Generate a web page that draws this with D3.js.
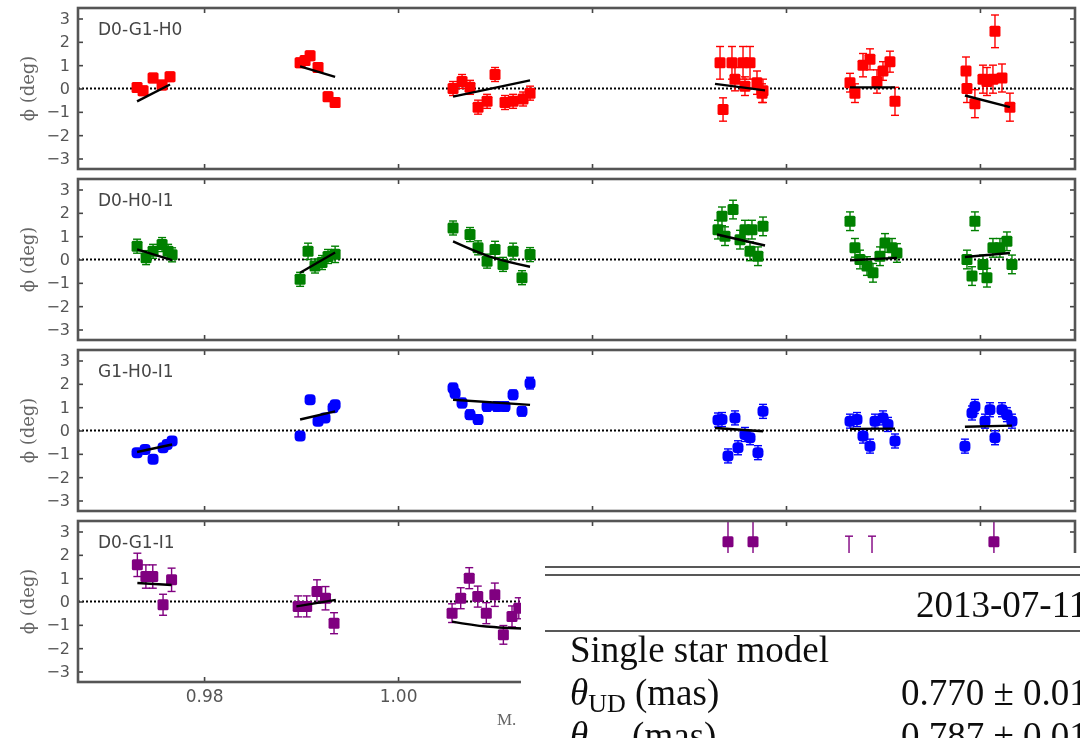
<!DOCTYPE html>
<html>
<head>
<meta charset="utf-8">
<script src="https://cdn.jsdelivr.net/npm/d3@7/dist/d3.min.js"></script>
<style>
  body { margin: 0; background: #fff; }
  svg { display: block; }
</style>
</head>
<body>
<div id="graphic"></div>
<script>
var width = 1080;
var height = 738;
var xLeft = 78;
var xRight = 1075;
var panelTop = 8;
var panelHeight = 161;
var panelStep = 171;
var markerSize = 11;
var capWidth = 8;
var tableLeft = 521;
var tableTop = 553;

var xDomain = [0.9670, 1.0698];
var yDomain = [-3.45, 3.45];
var xTicks = [0.98, 1.00, 1.02, 1.04, 1.06];
var yTicks = [-3, -2, -1, 0, 1, 2, 3];
var triangles = ["D0-G1-H0", "D0-H0-I1", "G1-H0-I1", "D0-G1-I1"];
var colors = ["#ff0000", "#008000", "#0000ff", "#800080"];

// closure phases: [time, phi (deg), error]
var phiD0G1H0 = [
  [0.97309, 0.04, 0.2], [0.97371, -0.1, 0.2], [0.97474, 0.45, 0.2], [0.97567, 0.15, 0.2], [0.97649, 0.5, 0.2],
  [0.98990, 1.1, 0.2], [0.99041, 1.2, 0.2], [0.99093, 1.4, 0.2], [0.99175, 0.9, 0.2], [0.99278, -0.35, 0.2], [0.99351, -0.6, 0.2],
  [1.00567, 0.0, 0.3], [1.00660, 0.3, 0.3], [1.00742, 0.05, 0.3], [1.00825, -0.8, 0.3], [1.00918, -0.55, 0.3],
  [1.01000, 0.6, 0.3], [1.01103, -0.6, 0.3], [1.01186, -0.55, 0.3], [1.01289, -0.45, 0.3], [1.01361, -0.2, 0.3],
  [1.03320, 1.1, 0.7], [1.03351, -0.9, 0.5], [1.03443, 1.1, 0.7], [1.03474, 0.4, 0.5], [1.03557, 1.1, 0.7],
  [1.03577, 0.1, 0.4], [1.03629, 1.1, 0.7], [1.03701, 0.25, 0.5], [1.03753, -0.2, 0.4], [1.03763, -0.1, 0.5],
  [1.04660, 0.25, 0.4], [1.04711, -0.2, 0.4], [1.04794, 1.0, 0.5], [1.04866, 1.25, 0.45], [1.04938, 0.3, 0.5],
  [1.05000, 0.75, 0.4], [1.05072, 1.15, 0.45], [1.05124, -0.55, 0.6],
  [1.05856, 0.75, 0.6], [1.05866, 0.0, 0.6], [1.05948, -0.65, 0.6], [1.06031, 0.4, 0.6], [1.06072, 0.3, 0.6],
  [1.06134, 0.4, 0.6], [1.06155, 2.45, 0.7], [1.06227, 0.45, 0.6], [1.06309, -0.8, 0.6]
];
var phiD0H0I1 = [
  [0.97309, 0.57, 0.3], [0.97402, 0.08, 0.3], [0.97474, 0.35, 0.3], [0.97567, 0.64, 0.3], [0.97629, 0.35, 0.3], [0.97670, 0.2, 0.3],
  [0.98990, -0.85, 0.3], [0.99072, 0.35, 0.35], [0.99144, -0.28, 0.3], [0.99216, -0.13, 0.3], [0.99278, 0.13, 0.3], [0.99351, 0.22, 0.35],
  [1.00567, 1.35, 0.3], [1.00742, 1.07, 0.3], [1.00825, 0.5, 0.3], [1.00918, -0.07, 0.3], [1.01000, 0.43, 0.35],
  [1.01082, -0.21, 0.3], [1.01186, 0.35, 0.35], [1.01278, -0.78, 0.3], [1.01361, 0.21, 0.3],
  [1.03299, 1.28, 0.4], [1.03340, 1.85, 0.4], [1.03371, 1.0, 0.4], [1.03454, 2.14, 0.4], [1.03526, 0.85, 0.4],
  [1.03577, 1.28, 0.4], [1.03629, 0.35, 0.4], [1.03649, 1.28, 0.4], [1.03711, 0.14, 0.4], [1.03763, 1.42, 0.4],
  [1.04660, 1.64, 0.4], [1.04711, 0.5, 0.4], [1.04763, 0.0, 0.4], [1.04835, -0.28, 0.4], [1.04897, -0.57, 0.4],
  [1.04969, 0.14, 0.4], [1.05021, 0.71, 0.4], [1.05093, 0.5, 0.4], [1.05144, 0.28, 0.4],
  [1.05866, 0.0, 0.4], [1.05918, -0.71, 0.4], [1.05948, 1.64, 0.4], [1.06031, -0.21, 0.4], [1.06072, -0.78, 0.4],
  [1.06134, 0.5, 0.4], [1.06206, 0.5, 0.4], [1.06278, 0.78, 0.4], [1.06330, -0.21, 0.4]
];
var phiG1H0I1 = [
  [0.97309, -0.95, 0.12], [0.97392, -0.81, 0.12], [0.97474, -1.23, 0.12], [0.97577, -0.74, 0.12], [0.97619, -0.6, 0.12], [0.97670, -0.45, 0.12],
  [0.98990, -0.24, 0.15], [0.99093, 1.32, 0.15], [0.99175, 0.4, 0.15], [0.99247, 0.54, 0.15], [0.99330, 0.97, 0.15], [0.99351, 1.1, 0.15],
  [1.00567, 1.82, 0.2], [1.00588, 1.6, 0.2], [1.00660, 1.18, 0.2], [1.00742, 0.68, 0.2], [1.00825, 0.47, 0.2], [1.00918, 1.03, 0.2],
  [1.01021, 1.03, 0.2], [1.01103, 1.03, 0.2], [1.01186, 1.53, 0.2], [1.01278, 0.82, 0.2], [1.01361, 2.03, 0.25],
  [1.03299, 0.45, 0.3], [1.03340, 0.47, 0.3], [1.03402, -1.09, 0.3], [1.03474, 0.54, 0.3], [1.03505, -0.74, 0.3],
  [1.03577, -0.17, 0.3], [1.03629, -0.31, 0.3], [1.03711, -0.95, 0.3], [1.03763, 0.82, 0.3],
  [1.04660, 0.4, 0.3], [1.04732, 0.47, 0.3], [1.04794, -0.24, 0.3], [1.04866, -0.67, 0.3], [1.04918, 0.4, 0.3],
  [1.05000, 0.54, 0.3], [1.05052, 0.26, 0.3], [1.05124, -0.45, 0.3],
  [1.05845, -0.67, 0.3], [1.05918, 0.75, 0.3], [1.05948, 1.03, 0.3], [1.06052, 0.4, 0.3], [1.06103, 0.89, 0.3],
  [1.06155, -0.31, 0.3], [1.06227, 0.89, 0.3], [1.06278, 0.68, 0.3], [1.06330, 0.4, 0.3]
];
var phiD0G1I1 = [
  [0.97312, 1.57, 0.5], [0.97400, 1.07, 0.5], [0.97471, 1.07, 0.5], [0.97577, -0.14, 0.45], [0.97665, 0.93, 0.5],
  [0.98970, -0.21, 0.45], [0.99058, -0.21, 0.45], [0.99164, 0.43, 0.5], [0.99252, 0.14, 0.5], [0.99340, -0.93, 0.45],
  [1.00557, -0.5, 0.4], [1.00646, 0.14, 0.45], [1.00734, 1.0, 0.45], [1.00822, 0.21, 0.45], [1.00910, -0.5, 0.45],
  [1.00998, 0.29, 0.5], [1.01086, -1.43, 0.4], [1.01175, -0.64, 0.45], [1.01245, -0.29, 0.45],
  [1.03402, 2.56, 1.0], [1.03660, 2.56, 1.0],
  [1.04650, 1.3, 1.5], [1.04887, 1.6, 1.2],
  [1.06144, 2.56, 1.0]
];

// model fits: one polyline per observing block, [time, phi]
var fitD0G1H0 = [
  [[0.97309, -0.55], [0.97649, 0.17]], [[0.98990, 0.95], [0.99351, 0.5]], [[1.00567, -0.35], [1.01361, 0.35]],
  [[1.03268, 0.2], [1.03784, -0.08]], [[1.04660, 0.05], [1.05124, 0.05]], [[1.05845, -0.3], [1.06309, -0.8]]
];
var fitD0H0I1 = [
  [[0.97309, 0.43], [0.97670, -0.03]], [[0.98990, -0.57], [0.99351, 0.3]], [[1.00567, 0.78], [1.00964, 0.1], [1.01361, -0.31]],
  [[1.03289, 1.07], [1.03784, 0.6]], [[1.04660, -0.03], [1.05144, 0.07]], [[1.05845, 0.11], [1.06309, 0.28]]
];
var fitG1H0I1 = [
  [[0.97309, -0.92], [0.97670, -0.6]], [[0.98990, 0.47], [0.99351, 0.82]], [[1.00567, 1.32], [1.01361, 1.1]],
  [[1.03268, 0.11], [1.03763, -0.03]], [[1.04660, 0.07], [1.05124, 0.08]], [[1.05845, 0.16], [1.06330, 0.21]]
];
var fitD0G1I1 = [
  [[0.97312, 0.79], [0.97665, 0.71]], [[0.98952, -0.21], [0.99358, 0.07]],
  [[1.00557, -0.86], [1.00910, -1.07], [1.01361, -1.17]]
];

var tableHeader = "2013-07-11";
var tableRows = [
  ["Single star model", ""],
  ["θ|UD| (mas)", "0.770 ± 0.01"],
  ["θ|LD| (mas)", "0.787 ± 0.01"]
];

var panels = [
  { name: triangles[0], color: colors[0], points: phiD0G1H0, fits: fitD0G1H0 },
  { name: triangles[1], color: colors[1], points: phiD0H0I1, fits: fitD0H0I1 },
  { name: triangles[2], color: colors[2], points: phiG1H0I1, fits: fitG1H0I1 },
  { name: triangles[3], color: colors[3], points: phiD0G1I1, fits: fitD0G1I1 }
];

var svg = d3.select("#graphic").append("svg")
  .attr("width", width)
  .attr("height", height);

var defs = svg.append("defs");
defs.append("filter").attr("id", "soft")
  .attr("x", 0).attr("y", 0).attr("width", width).attr("height", height)
  .attr("filterUnits", "userSpaceOnUse")
  .append("feGaussianBlur").attr("stdDeviation", 0.7);
defs.append("filter").attr("id", "softer")
  .attr("x", 0).attr("y", 0).attr("width", width).attr("height", height)
  .attr("filterUnits", "userSpaceOnUse")
  .append("feGaussianBlur").attr("stdDeviation", 0.5);

var chart = svg.append("g").attr("filter", "url(#soft)");

var xScale = d3.scaleLinear().domain(xDomain).range([xLeft, xRight]);

function renderPanel(p, i) {
  var top = panelTop + i * panelStep;
  var bottom = top + panelHeight;
  var yScale = d3.scaleLinear().domain(yDomain).range([bottom, top]);
  var g = chart.append("g");

  defs.append("clipPath").attr("id", "clip" + i)
    .append("rect")
    .attr("x", xLeft).attr("y", top)
    .attr("width", xRight - xLeft).attr("height", panelHeight);

  // zero line
  g.append("line")
    .attr("x1", xLeft).attr("x2", xRight)
    .attr("y1", yScale(0)).attr("y2", yScale(0))
    .attr("stroke", "#000")
    .attr("stroke-width", 1.8)
    .attr("stroke-dasharray", "2,2");

  var marks = g.append("g").attr("clip-path", "url(#clip" + i + ")");

  // error bars
  var bars = marks.append("g")
    .attr("stroke", p.color)
    .attr("stroke-width", 1.4)
    .selectAll("g")
    .data(p.points)
    .join("g");
  bars.append("line")
    .attr("x1", d => xScale(d[0])).attr("x2", d => xScale(d[0]))
    .attr("y1", d => yScale(d[1] - d[2])).attr("y2", d => yScale(d[1] + d[2]));
  bars.append("line")
    .attr("x1", d => xScale(d[0]) - capWidth / 2).attr("x2", d => xScale(d[0]) + capWidth / 2)
    .attr("y1", d => yScale(d[1] + d[2])).attr("y2", d => yScale(d[1] + d[2]));
  bars.append("line")
    .attr("x1", d => xScale(d[0]) - capWidth / 2).attr("x2", d => xScale(d[0]) + capWidth / 2)
    .attr("y1", d => yScale(d[1] - d[2])).attr("y2", d => yScale(d[1] - d[2]));

  // markers
  marks.append("g")
    .selectAll("rect")
    .data(p.points)
    .join("rect")
    .attr("x", d => xScale(d[0]) - markerSize / 2)
    .attr("y", d => yScale(d[1]) - markerSize / 2)
    .attr("width", markerSize)
    .attr("height", markerSize)
    .attr("rx", i == 2 ? 4 : 1.5)
    .attr("fill", p.color);

  // fitted model
  var line = d3.line()
    .x(d => xScale(d[0]))
    .y(d => yScale(d[1]))
    .curve(d3.curveNatural);
  marks.append("g")
    .selectAll("path")
    .data(p.fits)
    .join("path")
    .attr("d", line)
    .attr("fill", "none")
    .attr("stroke", "#000")
    .attr("stroke-width", 2.4);

  // axes (inward ticks on all four sides)
  var isLast = i == panels.length - 1;
  var left = g.append("g")
    .attr("transform", "translate(" + xLeft + ",0)")
    .call(d3.axisLeft(yScale).tickValues(yTicks).tickSize(-5).tickPadding(8)
      .tickFormat(d3.format("d")));
  var right = g.append("g")
    .attr("transform", "translate(" + xRight + ",0)")
    .call(d3.axisRight(yScale).tickValues(yTicks).tickSize(-5).tickFormat(""));
  var topAxis = g.append("g")
    .attr("transform", "translate(0," + top + ")")
    .call(d3.axisTop(xScale).tickValues(xTicks).tickSize(-5).tickFormat(""));
  // labels under the table are left out
  var bottomAxis = g.append("g")
    .attr("transform", "translate(0," + bottom + ")")
    .call(d3.axisBottom(xScale).tickValues(xTicks).tickSize(-5).tickPadding(8)
      .tickFormat(d => (isLast && xScale(d) < tableLeft) ? d3.format(".2f")(d) : ""));

  [left, right, topAxis, bottomAxis].forEach(function(a) {
    a.select(".domain").remove();
    a.selectAll("line").attr("stroke", "#444").attr("stroke-width", 1.6);
    a.selectAll("text")
      .attr("fill", "#555")
      .style("font-family", "'DejaVu Sans', sans-serif")
      .style("font-size", "16px");
  });
  bottomAxis.selectAll("text").style("font-size", "17px");

  // frame
  g.append("rect")
    .attr("x", xLeft).attr("y", top)
    .attr("width", xRight - xLeft).attr("height", panelHeight)
    .attr("fill", "none")
    .attr("stroke", "#555")
    .attr("stroke-width", 2.6);

  // triangle name
  g.append("text")
    .attr("x", xLeft + 20)
    .attr("y", top + 27)
    .attr("fill", "#444")
    .style("font-family", "'DejaVu Sans', sans-serif")
    .style("font-size", "17px")
    .text(p.name);

  // y label
  g.append("text")
    .attr("transform", "translate(34," + yScale(0) + ") rotate(-90)")
    .attr("text-anchor", "middle")
    .attr("fill", "#666")
    .style("font-family", "'DejaVu Serif', serif")
    .style("font-size", "18px")
    .text("ϕ (deg)");
}

panels.forEach(renderPanel);

// x label, cut by the table
chart.append("text")
  .attr("x", 497)
  .attr("y", 725)
  .attr("fill", "#666")
  .style("font-family", "'Liberation Serif', serif")
  .style("font-size", "17px")
  .text("M.");

// overlapping table from the page
var table = svg.append("g").attr("filter", "url(#softer)");
table.append("rect")
  .attr("x", tableLeft).attr("y", tableTop)
  .attr("width", width - tableLeft).attr("height", height - tableTop)
  .attr("fill", "#fff");

var ruleYs = [567, 575, 631];
table.selectAll("line")
  .data(ruleYs)
  .join("line")
  .attr("x1", 545).attr("x2", width)
  .attr("y1", d => d).attr("y2", d => d)
  .attr("stroke", "#222")
  .attr("stroke-width", 1.6);

var serif = "'Liberation Serif', 'Times New Roman', serif";
table.append("text")
  .attr("x", 916).attr("y", 617)
  .attr("fill", "#111")
  .style("font-family", serif)
  .style("font-size", "37px")
  .text(tableHeader);

var rowYs = [662, 705, 748];
tableRows.forEach(function(r, k) {
  var parts = r[0].split("|");
  var t = table.append("text")
    .attr("x", 570).attr("y", rowYs[k])
    .attr("fill", "#111")
    .style("font-family", serif)
    .style("font-size", "37px");
  if (parts.length > 1) {
    t.append("tspan").style("font-style", "italic").text(parts[0]);
    t.append("tspan").attr("dy", 7).style("font-size", "26px").text(parts[1]);
    t.append("tspan").attr("dy", -7).text(parts[2]);
  } else {
    t.text(r[0]);
  }
  table.append("text")
    .attr("x", 901).attr("y", rowYs[k])
    .attr("fill", "#111")
    .style("font-family", serif)
    .style("font-size", "37px")
    .text(r[1]);
});
</script>
</body>
</html>
